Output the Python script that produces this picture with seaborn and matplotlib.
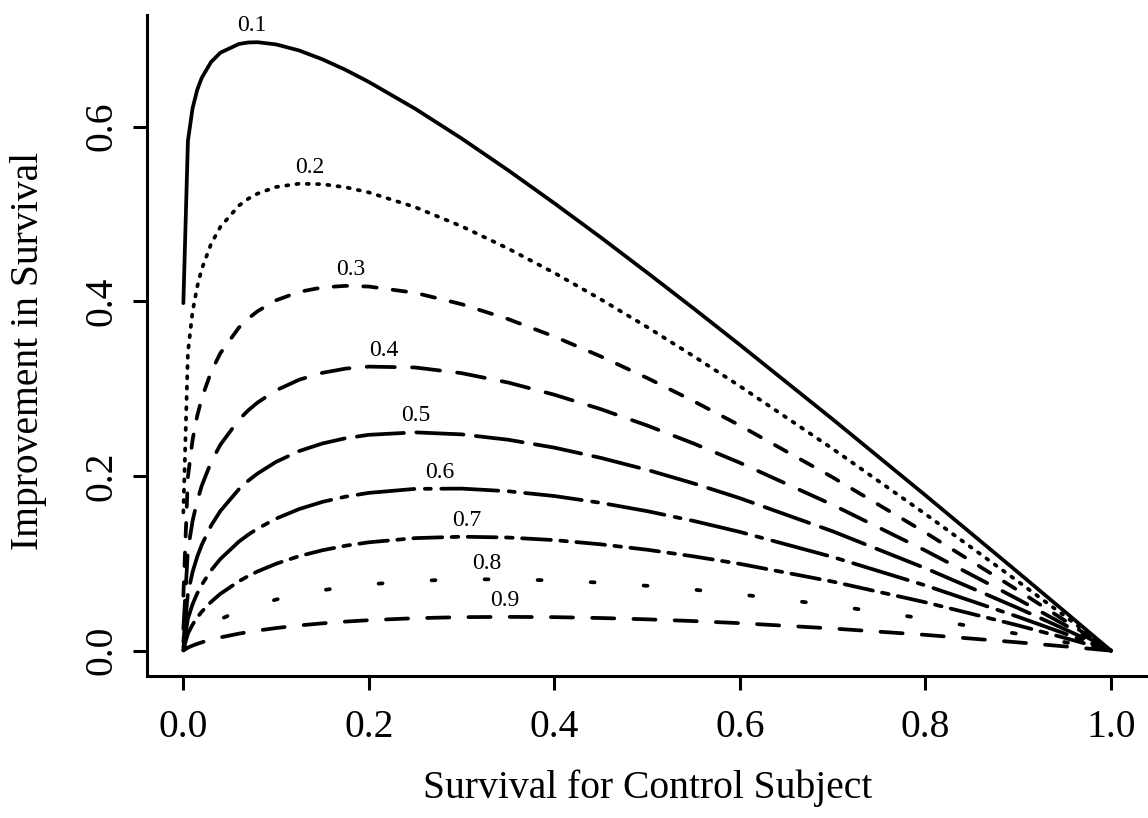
import pandas as pd
import matplotlib.pyplot as plt
import seaborn as sns

# survival of the control subject (x) and improvement for each hazard ratio (y)
survival_control = [0.0001, 0.005, 0.01, 0.015, 0.02, 0.03, 0.04, 0.06, 0.07, 0.08, 0.1, 0.125, 0.15, 0.175,
                    0.2, 0.25, 0.3, 0.35, 0.4, 0.45, 0.5, 0.55, 0.6, 0.7, 0.8, 0.9, 0.95, 1.0]
hazard_labels = ["0.1", "0.2", "0.3", "0.4", "0.5", "0.6", "0.7", "0.8", "0.9"]

improvement_01 = [0.3980, 0.5837, 0.6210, 0.6421, 0.6562, 0.6742, 0.6848, 0.6948, 0.6965, 0.6968, 0.6943, 0.6873, 0.6772, 0.6651,
                  0.6513, 0.6206, 0.5866, 0.5503, 0.5124, 0.4733, 0.4330, 0.3920, 0.3502, 0.2650, 0.1779, 0.0895, 0.0449, 0.0]
improvement_02 = [0.1584, 0.3416, 0.3881, 0.4167, 0.4373, 0.4659, 0.4853, 0.5097, 0.5175, 0.5234, 0.5310, 0.5348, 0.5342, 0.5307,
                  0.5248, 0.5079, 0.4860, 0.4606, 0.4326, 0.4024, 0.3706, 0.3373, 0.3029, 0.2312, 0.1564, 0.0791, 0.0398, 0.0]
improvement_03 = [0.0630, 0.1990, 0.2412, 0.2687, 0.2893, 0.3193, 0.3407, 0.3700, 0.3803, 0.3887, 0.4012, 0.4109, 0.4160, 0.4178,
                  0.4170, 0.4098, 0.3968, 0.3798, 0.3597, 0.3370, 0.3123, 0.2858, 0.2579, 0.1985, 0.1352, 0.0689, 0.0347, 0.0]
improvement_04 = [0.0250, 0.1151, 0.1485, 0.1714, 0.1891, 0.2160, 0.2359, 0.2645, 0.2752, 0.2841, 0.2981, 0.3103, 0.3182, 0.3230,
                  0.3253, 0.3243, 0.3178, 0.3071, 0.2931, 0.2766, 0.2579, 0.2373, 0.2152, 0.1670, 0.1146, 0.0587, 0.0297, 0.0]
improvement_05 = [0.0099, 0.0657, 0.0900, 0.1075, 0.1214, 0.1432, 0.1600, 0.1849, 0.1946, 0.2028, 0.2162, 0.2286, 0.2373, 0.2433,
                  0.2472, 0.2500, 0.2477, 0.2416, 0.2325, 0.2208, 0.2071, 0.1916, 0.1746, 0.1367, 0.0944, 0.0487, 0.0247, 0.0]
improvement_06 = [0.0039, 0.0366, 0.0531, 0.0655, 0.0756, 0.0920, 0.1050, 0.1249, 0.1328, 0.1397, 0.1512, 0.1622, 0.1704, 0.1764,
                  0.1807, 0.1853, 0.1856, 0.1826, 0.1771, 0.1693, 0.1598, 0.1486, 0.1360, 0.1073, 0.0747, 0.0387, 0.0197, 0.0]
improvement_07 = [0.0015, 0.0195, 0.0298, 0.0379, 0.0447, 0.0559, 0.0651, 0.0795, 0.0854, 0.0907, 0.0995, 0.1083, 0.1150, 0.1202,
                  0.1241, 0.1289, 0.1305, 0.1296, 0.1266, 0.1218, 0.1156, 0.1080, 0.0994, 0.0791, 0.0554, 0.0289, 0.0147, 0.0]
improvement_08 = [0.0005, 0.0094, 0.0151, 0.0197, 0.0237, 0.0305, 0.0361, 0.0453, 0.0491, 0.0526, 0.0585, 0.0645, 0.0692, 0.0730,
                  0.0759, 0.0799, 0.0817, 0.0817, 0.0804, 0.0779, 0.0743, 0.0699, 0.0645, 0.0518, 0.0365, 0.0192, 0.0098, 0.0]
improvement_09 = [0.0002, 0.0035, 0.0058, 0.0078, 0.0096, 0.0126, 0.0152, 0.0195, 0.0213, 0.0230, 0.0259, 0.0289, 0.0313, 0.0333,
                  0.0349, 0.0372, 0.0384, 0.0387, 0.0384, 0.0374, 0.0359, 0.0339, 0.0315, 0.0254, 0.0181, 0.0095, 0.0049, 0.0]

# where the curve labels sit
label_x = [0.074, 0.136, 0.181, 0.216, 0.251, 0.277, 0.306, 0.327, 0.347]
label_y = [0.716, 0.553, 0.436, 0.344, 0.269, 0.204, 0.149, 0.100, 0.057]

x_ticks = [0.0, 0.2, 0.4, 0.6, 0.8, 1.0]
y_ticks = [0.0, 0.2, 0.4, 0.6]

sns.set_theme(style="ticks")
plt.rcParams['font.family'] = ['Liberation Serif', 'DejaVu Serif']
plt.rcParams['axes.linewidth'] = 2.2
plt.rcParams['axes.edgecolor'] = 'black'
plt.rcParams['axes.labelcolor'] = 'black'
plt.rcParams['text.color'] = 'black'
plt.rcParams['xtick.color'] = 'black'
plt.rcParams['ytick.color'] = 'black'

curves = [improvement_01, improvement_02, improvement_03, improvement_04, improvement_05,
          improvement_06, improvement_07, improvement_08, improvement_09]
for c in curves:
    assert len(c) == len(survival_control)

df = pd.DataFrame({
    'survival': survival_control * len(curves),
    'improvement': [v for c in curves for v in c],
    'hazard': [h for h in hazard_labels for _ in survival_control],
})

dash_styles = {
    "0.1": "",
    "0.2": (0.55, 2.2),
    "0.3": (3.6, 4.3),
    "0.4": (7.5, 4.6),
    "0.5": (12.6, 3.3),
    "0.6": (15.2, 2.8, 1.6, 2.8),
    "0.7": (7.7, 2.5, 1.8, 2.5),
    "0.8": (1.05, 13.1),
    "0.9": (5.9, 5.1),
}

fig = plt.figure(figsize=(11.48, 8.18), dpi=100)
ax = fig.add_axes([0.1278, 0.1736, 0.8726, 0.8081])
sns.lineplot(data=df, x='survival', y='improvement', style='hazard', dashes=dash_styles,
             color='black', linewidth=2.7, legend=False, ax=ax, sort=False, estimator=None,
             dash_capstyle='round', solid_capstyle='round', solid_joinstyle='round')

for lab, lx, ly in zip(hazard_labels, label_x, label_y):
    ax.text(lx, ly, lab, ha='center', va='center', fontsize=17, color='black')

ax.set_xlim(-0.0394, 1.0404)
ax.set_ylim(-0.029, 0.728)
ax.set_xticks(x_ticks)
ax.set_xticklabels([f"{t:.1f}" for t in x_ticks])
ax.set_yticks(y_ticks)
ax.set_yticklabels([f"{t:.1f}" for t in y_ticks])
ax.tick_params(axis='both', direction='out', length=10, width=2.2, labelsize=28.5, colors='black')
ax.tick_params(axis='x', pad=14)
ax.tick_params(axis='y', pad=9)
for t in ax.get_yticklabels():
    t.set_rotation(90)
    t.set_va('center')
sns.despine(ax=ax)

ax.set_xlabel('Survival for Control Subject', fontsize=28.5)
ax.set_ylabel('Improvement in Survival', fontsize=28.5)
ax.xaxis.set_label_coords(0.5, -0.142)
ax.yaxis.set_label_coords(-0.0995, 0.492)
ax.grid(False)

fig.savefig('out.png', dpi=100)
